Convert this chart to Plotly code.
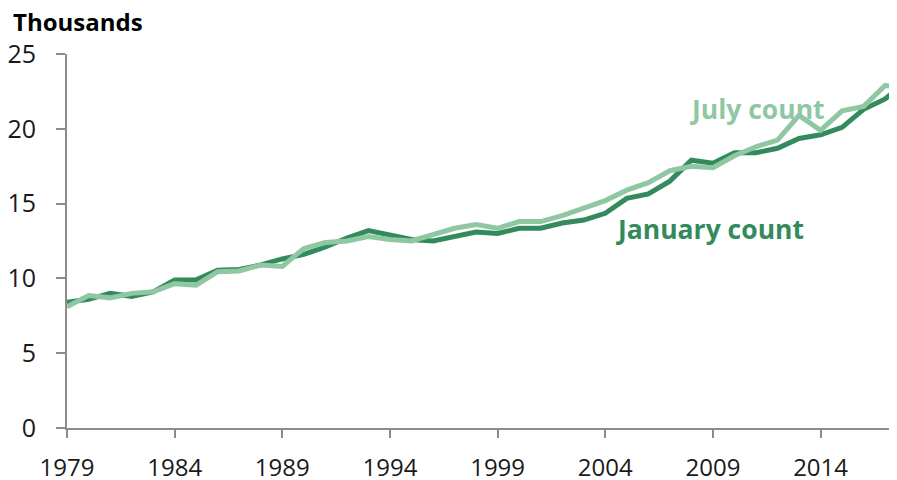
import plotly.graph_objects as go

years = list(range(1979, 2019))
january = [8.4, 8.6, 9.0, 8.8, 9.1, 9.9, 9.9, 10.55, 10.6, 10.9, 11.3, 11.6,
           12.1, 12.7, 13.2, 12.9, 12.6, 12.5, 12.8, 13.1, 13.0, 13.35, 13.35, 13.7,
           13.9, 14.35, 15.35, 15.65, 16.5, 17.9, 17.7, 18.4, 18.4, 18.7, 19.35, 19.6,
           20.1, 21.3, 22.0, 23.2]
july = [8.1, 8.85, 8.7, 9.0, 9.1, 9.65, 9.55, 10.45, 10.5, 10.9, 10.8, 12.0,
        12.4, 12.5, 12.8, 12.6, 12.5, 12.9, 13.35, 13.6, 13.35, 13.8, 13.8, 14.2,
        14.7, 15.2, 15.9, 16.4, 17.2, 17.5, 17.4, 18.2, 18.8, 19.25, 20.9, 19.9,
        21.2, 21.5, 22.9, 22.7]
x_ticks = [1979, 1984, 1989, 1994, 1999, 2004, 2009, 2014]
y_ticks = [0, 5, 10, 15, 20, 25]

DARK = "#338a5c"
LIGHT = "#8fc7a3"
FONT = "Open Sans"

fig = go.Figure()
fig.add_trace(go.Scatter(x=years, y=january, mode="lines", name="January count",
                         line=dict(color=DARK, width=5), hoverinfo="skip"))
fig.add_trace(go.Scatter(x=years, y=july, mode="lines", name="July count",
                         line=dict(color=LIGHT, width=5), hoverinfo="skip"))

fig.add_annotation(x=2011.05, y=21.3, text="<b>July count</b>", showarrow=False,
                   font=dict(family=FONT, size=26.5, color=LIGHT), xanchor="center", yanchor="middle")
fig.add_annotation(x=2008.85, y=13.3, text="<b>January count</b>", showarrow=False,
                   font=dict(family=FONT, size=26.5, color=DARK), xanchor="center", yanchor="middle")
fig.add_annotation(xref="paper", yref="paper", x=-0.068, y=1.086, text="<b>Thousands</b>",
                   showarrow=False, font=dict(family=FONT, size=24, color="#000000"),
                   xanchor="left", yanchor="middle")

axis_col = "#8c8c8c"
fig.update_layout(
    width=889, height=472,
    margin=dict(l=59, r=0, t=46, b=52),
    plot_bgcolor="white", paper_bgcolor="white",
    showlegend=False,
    font=dict(family=FONT, size=25, color="#1a1a1a"),
    xaxis=dict(range=[1979, 2017.55], tickvals=x_ticks, ticktext=[str(v) for v in x_ticks],
               tickfont=dict(size=24),
               showgrid=False, zeroline=False, showline=True, linecolor=axis_col, linewidth=2,
               ticks="outside", ticklen=8, tickwidth=2, tickcolor=axis_col,
               ticklabelstandoff=9, automargin=False),
    yaxis=dict(range=[0, 25], tickvals=y_ticks, showgrid=False, zeroline=False,
               showline=True, linecolor=axis_col, linewidth=2,
               ticks="outside", ticklen=9, tickwidth=2, tickcolor=axis_col,
               ticklabelstandoff=15, automargin=False),
)

fig.write_html("out.html")
